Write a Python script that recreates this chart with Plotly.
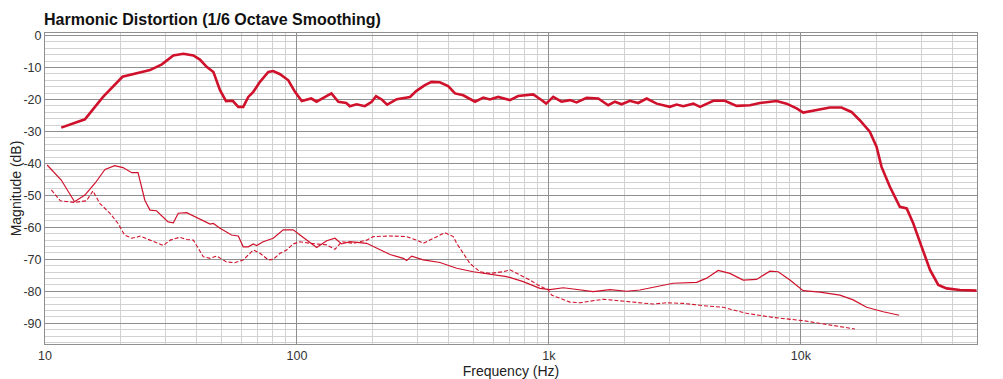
import plotly.graph_objects as go

# Fundamental (thick)
fund_f = [11.6, 14.4, 17.0, 20.3, 26.1, 29.1, 32.3, 35.4, 38.8, 41.2, 43.8, 46.6, 49.5, 52.3, 55.6, 58.5, 61.2,
          64.1, 67.1, 71.3, 77.0, 80.5, 85.7, 92.4, 98.2, 102.8, 104.5, 114, 119.6, 137, 146, 157, 162, 172.5,
          186, 198, 206, 217, 228, 249, 281, 298, 322, 342, 369, 398, 424, 457, 509, 549, 583, 629, 700, 755,
          866, 940, 975, 1040, 1122, 1211, 1288, 1412, 1570, 1719, 1828, 1943, 2095, 2261, 2443, 2676, 3020,
          3212, 3414, 3742, 3980, 4490, 4993, 5556, 6276, 6876, 8010, 8774, 9617, 10215, 11540, 13030, 14490,
          15870, 17130, 18770, 19960, 20900, 22550, 24700, 26300, 27940, 30150, 32550, 35100, 37870, 42750, 49800]
fund_db = [-28.8, -26.2, -19.2, -12.9, -10.8, -9.0, -6.2, -5.7, -6.2, -7.5, -9.8, -11.4, -17.1, -20.5, -20.4,
           -22.3, -22.3, -19.2, -17.6, -14.5, -11.4, -11.1, -12.1, -14.0, -17.6, -20.0, -20.5, -19.7, -20.7,
           -18.1, -20.7, -21.1, -22.1, -21.5, -22.1, -20.7, -19.0, -20.0, -21.6, -19.9, -19.2, -17.3, -15.5,
           -14.5, -14.6, -15.8, -18.1, -18.7, -20.7, -19.4, -20.0, -19.2, -20.2, -18.9, -18.4, -20.3, -21.3,
           -19.2, -20.7, -20.2, -20.9, -19.5, -19.7, -21.8, -20.7, -21.5, -20.4, -21.1, -19.7, -21.3, -22.3,
           -21.6, -22.1, -21.3, -22.3, -20.4, -20.4, -22.0, -21.8, -21.1, -20.5, -21.3, -22.8, -24.1, -23.3,
           -22.5, -22.5, -23.9, -26.5, -30.1, -34.8, -41.1, -47.3, -53.6, -54.1, -58.8, -66.1, -73.3, -78.0,
           -79.1, -79.6, -79.8]

# 2nd harmonic (thin solid)
h2_f = [10.2, 11.6, 13.1, 14.4, 15.8, 17.3, 18.9, 20.4, 22.1, 23.4, 24.9, 26.1, 27.7, 30.8, 32.3, 33.8, 36.5,
        40.6, 45.2, 46.6, 49.5, 55.0, 58.5, 61.2, 64.1, 67.1, 69.2, 73.4, 80.5, 88.2, 96.6, 102.8, 119.7, 131.2,
        141.5, 150.4, 162.3, 189.1, 213.5, 233.9, 264.2, 272.5, 285.2, 317.1, 369.3, 430.4, 500.6, 583.2,
        679.5, 790.8, 921.1, 1009, 1140, 1249, 1499, 1746, 2033, 2296, 2675, 3113, 3856, 4226, 4697, 5226,
        5902, 6671, 7536, 8126, 9046, 10210, 11895, 14280, 16130, 18230, 21220, 24550]
h2_db = [-40.5, -45.2, -52.0, -49.9, -46.2, -41.9, -40.7, -41.3, -42.9, -42.9, -51.5, -54.6, -54.8, -58.3,
         -58.6, -55.6, -55.4, -57.2, -59.0, -58.8, -60.3, -62.4, -62.7, -66.1, -66.1, -65.2, -65.7, -64.5,
         -63.4, -60.8, -60.8, -62.4, -66.3, -64.2, -63.4, -65.2, -64.5, -65.0, -67.1, -68.5, -69.7, -70.4,
         -69.0, -70.2, -71.0, -72.8, -73.9, -74.7, -75.4, -77.0, -79.1, -79.5, -78.9, -79.3, -80.1, -79.5,
         -80.0, -79.6, -78.6, -77.5, -77.2, -75.9, -73.5, -74.4, -76.5, -76.3, -73.7, -73.9, -76.5, -79.8,
         -80.3, -81.2, -82.7, -85.0, -86.4, -87.5]

# 3rd harmonic (thin dashed)
h3_f = [10.6, 11.5, 13.1, 14.6, 15.5, 16.5, 18.1, 19.5, 20.7, 22.1, 23.1, 23.8, 26.1, 29.5, 31.4, 34.3, 36.5,
        38.8, 42.5, 45.2, 48.0, 52.5, 56.6, 61.2, 67.1, 71.3, 77.0, 80.5, 85.7, 91, 96.6, 102.8, 112.6, 131.2,
        141.5, 150.4, 167.3, 189.1, 200.9, 233.9, 272.5, 298.5, 317.1, 347.5, 386.7, 417.2, 430.4, 485.8,
        532.2, 583.2, 658.8, 700, 767.3, 840.7, 921.1, 993.6, 1025, 1212, 1327, 1643, 2033, 2594, 2931, 3412,
        4226, 4918, 6088, 7763, 10210, 13030, 16380]
h3_db = [-48.3, -51.7, -52.2, -51.7, -48.6, -52.5, -55.6, -58.8, -62.4, -63.4, -63.1, -62.7, -64.0, -65.7,
         -64.0, -63.1, -63.8, -64.0, -69.2, -69.7, -69.0, -70.8, -71.1, -70.2, -67.1, -68.1, -70.2, -70.0,
         -68.1, -67.1, -65.2, -64.5, -65.0, -65.5, -66.9, -64.5, -65.0, -64.0, -62.9, -62.7, -62.9, -64.0,
         -65.0, -63.4, -61.7, -62.9, -65.0, -71.3, -73.9, -74.4, -73.9, -73.3, -74.9, -76.5, -78.4, -79.6,
         -81.2, -83.4, -83.6, -82.5, -83.2, -84.0, -83.6, -83.8, -84.6, -85.0, -86.9, -88.2, -89.2, -90.5,
         -91.8]

x_major = [10, 100, 1000, 10000]
x_major_text = ["10", "100", "1k", "10k"]
x_minor = [m * d for d in [10, 100, 1000, 10000] for m in range(2, 10) if m * d <= 50000]
y_major = [0, -10, -20, -30, -40, -50, -60, -70, -80, -90]
y_major_text = ["0", "-10", "-20", "-30", "-40", "-50", "-60", "-70", "-80", "-90"]

RED = "#d0112b"
FONT = "Liberation Sans"

# the page body adds an 8px offset, so the figure is sized to fit the window
W, H = 995, 371

fig = go.Figure()
fig.add_trace(go.Scatter(x=h3_f, y=h3_db, mode="lines",
                         line=dict(color=RED, width=1.1, dash="4px,2px"), name="H3"))
fig.add_trace(go.Scatter(x=h2_f, y=h2_db, mode="lines",
                         line=dict(color=RED, width=1.2), name="H2"))
fig.add_trace(go.Scatter(x=fund_f, y=fund_db, mode="lines",
                         line=dict(color=RED, width=2.6), name="Fundamental"))

fig.update_layout(
    width=W, height=H,
    margin=dict(l=37, r=26, t=25, b=35, autoexpand=False),
    paper_bgcolor="white", plot_bgcolor="white",
    showlegend=False,
    font=dict(family=FONT, size=12, color="#333333"),
    title=dict(text="<b>Harmonic Distortion (1/6 Octave Smoothing)</b>",
               font=dict(family=FONT, size=16, color="#111111"),
               x=36 / W, xanchor="left", xref="container",
               y=1 - 11 / H, yanchor="middle", yref="container", automargin=False),
)
fig.update_xaxes(
    type="log", range=[1, 4.69897], automargin=False,
    tickvals=x_major, ticktext=x_major_text,
    showgrid=True, gridcolor="#8f8f8f", gridwidth=1,
    minor=dict(tickvals=x_minor, showgrid=True, gridcolor="#d2d2d2", gridwidth=1, ticks=""),
    showline=True, linecolor="#8f8f8f", linewidth=1, mirror=True,
    ticks="", tickfont=dict(size=12.5, color="#333333"),
    title=dict(text="Frequency (Hz)", font=dict(size=14, color="#222222"), standoff=0),
    zeroline=False,
)
fig.update_yaxes(
    range=[-96.5, 0.8], automargin=False,
    tickvals=y_major, ticktext=y_major_text,
    showgrid=True, gridcolor="#8f8f8f", gridwidth=1,
    minor=dict(dtick=2, showgrid=True, gridcolor="#d2d2d2", gridwidth=1, ticks=""),
    showline=True, linecolor="#8f8f8f", linewidth=1, mirror=True,
    ticks="", tickfont=dict(size=12.5, color="#333333"),
    title=dict(text="Magnitude (dB)", font=dict(size=14, color="#222222"), standoff=6),
    zeroline=False,
)

fig.write_html("out.html")
